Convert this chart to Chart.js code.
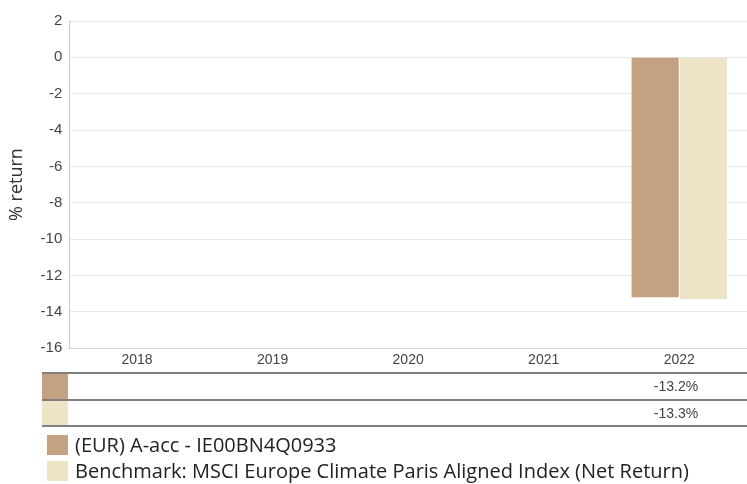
<!DOCTYPE html>
<html>
<head>
<meta charset="utf-8">
<script src="https://cdn.jsdelivr.net/npm/chart.js@4.4.1/dist/chart.umd.min.js"></script>
<style>
  html, body { margin: 0; padding: 0; background: #fff; }
  #wrap { width: 747px; height: 484px; position: relative; }
</style>
</head>
<body>
<div id="wrap"><canvas id="grafico"></canvas></div>
<script>
  // dados
  const anos = ["2018", "2019", "2020", "2021", "2022"];
  const fundo = [null, null, null, null, -13.2];
  const benchmark = [null, null, null, null, -13.3];
  const nomes = ["(EUR) A-acc - IE00BN4Q0933", "Benchmark: MSCI Europe Climate Paris Aligned Index (Net Return)"];
  const cores = ["#c4a182", "#eee2c7"];
  const ticksY = [2, 0, -2, -4, -6, -8, -10, -12, -14, -16];

  // tabela + legenda desenhadas por baixo do grafico
  const tabelaPlugin = {
    id: "tabela",
    afterDraw(chart) {
      const ctx = chart.ctx;
      const xs = chart.scales.x;
      const linhas = [373, 400, 426];
      ctx.save();
      ctx.strokeStyle = "#555";
      ctx.lineWidth = 1.5;
      linhas.forEach(y => {
        ctx.beginPath();
        ctx.moveTo(42, y);
        ctx.lineTo(747, y);
        ctx.stroke();
      });
      const series = [fundo, benchmark];
      ctx.font = "14px 'Liberation Sans', Arial, sans-serif";
      ctx.textBaseline = "middle";
      ctx.textAlign = "right";
      series.forEach((s, i) => {
        ctx.fillStyle = cores[i];
        ctx.fillRect(42, linhas[i] + 1, 26, linhas[i + 1] - linhas[i] - 2);
        ctx.fillStyle = "#444";
        s.forEach((v, j) => {
          if (v === null) return;
          ctx.fillText(v.toFixed(1) + "%", xs.getPixelForValue(j) + 19, (linhas[i] + linhas[i + 1]) / 2 + 1);
        });
      });
      // legenda
      ctx.font = "20px 'Open Sans', sans-serif";
      ctx.textAlign = "left";
      nomes.forEach((n, i) => {
        const y = 435 + i * 26;
        ctx.fillStyle = cores[i];
        ctx.fillRect(47, y, 21, 20);
        ctx.fillStyle = "#222";
        ctx.fillText(n, 75, y + 11);
      });
      ctx.restore();
    }
  };

  const grafico = document.getElementById("grafico").getContext("2d");
  const chartGrafico = new Chart(grafico, {
    type: "bar",
    data: {
      labels: anos,
      datasets: [
        {
          label: nomes[0],
          data: fundo,
          backgroundColor: cores[0],
          categoryPercentage: 0.71,
          barPercentage: 0.98,
        },
        {
          label: nomes[1],
          data: benchmark,
          backgroundColor: cores[1],
          categoryPercentage: 0.71,
          barPercentage: 0.98,
        },
      ],
    },
    options: {
      responsive: true,
      maintainAspectRatio: false,
      animation: false,
      layout: { padding: { top: 21, right: 0, bottom: 111, left: 6 } },
      scales: {
        x: {
          grid: { display: false, drawTicks: false },
          border: { display: true, color: "#d8d8d8" },
          ticks: { color: "#444", font: { size: 14, family: "'Liberation Sans', Arial" }, padding: 4 },
        },
        y: {
          min: -16,
          max: 2,
          afterBuildTicks(axis) {
            axis.ticks = ticksY.map(v => ({ value: v }));
          },
          grid: { color: "#e8e8e8", drawTicks: false },
          border: { display: true, color: "#c8c8c8" },
          ticks: { color: "#444", font: { size: 15, family: "'Liberation Sans', Arial" }, padding: 7 },
          title: {
            display: true,
            text: "% return",
            color: "#333",
            font: { size: 18, family: "'Open Sans', sans-serif" },
            padding: { top: 0, bottom: 6 },
          },
        },
      },
      plugins: {
        legend: { display: false },
        tooltip: { enabled: false },
      },
    },
    plugins: [tabelaPlugin],
  });
</script>
</body>
</html>
